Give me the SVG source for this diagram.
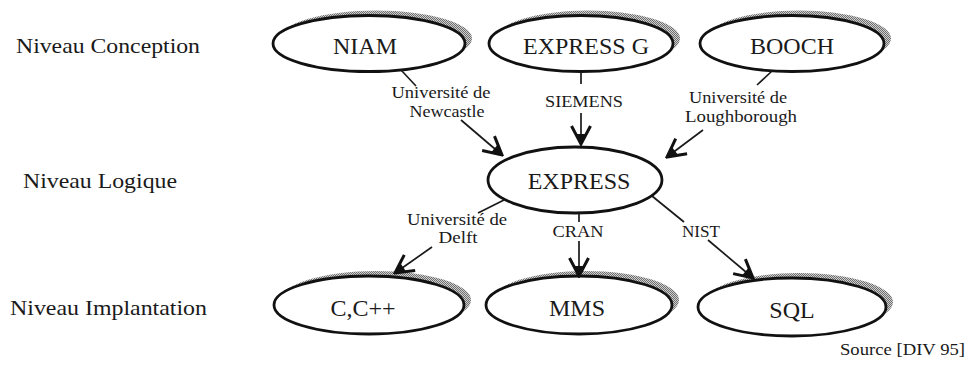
<svg xmlns="http://www.w3.org/2000/svg" width="972" height="369" viewBox="0 0 972 369">
<defs>
<pattern id="stip" width="2" height="2" patternUnits="userSpaceOnUse">
<rect width="2" height="2" fill="#d0d0d0"/>
<rect x="0" y="0" width="1" height="1" fill="#6e6e6e"/>
<rect x="1" y="1" width="1" height="1" fill="#6e6e6e"/>
</pattern>
<marker id="arr" markerWidth="22" markerHeight="24" refX="20" refY="12" orient="auto" markerUnits="userSpaceOnUse">
<path d="M2,2.5 L20,12 L2,21.5" fill="none" stroke="#111" stroke-width="3" stroke-linejoin="miter"/>
<path d="M10,7.5 L20,12 L10,16.5 Z" fill="#111"/>
</marker>
</defs>
<style>
.sh{fill:url(#stip);stroke:none}
.el{fill:#fff;stroke:#111;stroke-width:2.8}
.nt{font-family:"Liberation Serif",serif;font-size:24px;fill:#1a1a1a;text-anchor:middle}
.lv{font-family:"Liberation Serif",serif;font-size:21px;fill:#1a1a1a}
.cl{font-family:"Liberation Serif",serif;font-size:16px;fill:#1a1a1a;text-anchor:middle}
.ln{stroke:#1a1a1a;stroke-width:1.7;fill:none}
</style>
<rect width="972" height="369" fill="#fff"/>
<g id="levels">
<text class="lv" x="16" y="53" textLength="184" lengthAdjust="spacingAndGlyphs">Niveau Conception</text>
<text class="lv" x="23" y="188" textLength="154" lengthAdjust="spacingAndGlyphs">Niveau Logique</text>
<text class="lv" x="10" y="315" textLength="197" lengthAdjust="spacingAndGlyphs">Niveau Implantation</text>
</g>
<g id="niam">
<ellipse class="sh" cx="376" cy="38.5" rx="96" ry="28"/>
<ellipse class="el" cx="369" cy="43.5" rx="96" ry="28"/>
<text class="nt" x="365" y="54">NIAM</text>
</g>
<g id="expressg">
<ellipse class="sh" cx="588" cy="38.5" rx="92" ry="28"/>
<ellipse class="el" cx="581" cy="43.5" rx="92" ry="28"/>
<text class="nt" x="586" y="54">EXPRESS G</text>
</g>
<g id="booch">
<ellipse class="sh" cx="799" cy="38.5" rx="92" ry="28"/>
<ellipse class="el" cx="792" cy="43.5" rx="92" ry="28"/>
<text class="nt" x="792" y="54">BOOCH</text>
</g>
<g id="express">
<ellipse class="el" cx="575" cy="180" rx="87" ry="33"/>
<text class="nt" x="579" y="189">EXPRESS</text>
</g>
<g id="cpp">
<ellipse class="sh" cx="376" cy="300" rx="95" ry="29"/>
<ellipse class="el" cx="369" cy="305" rx="95" ry="29"/>
<text class="nt" x="363" y="316">C,C++</text>
</g>
<g id="mms">
<ellipse class="sh" cx="586" cy="300" rx="93" ry="29"/>
<ellipse class="el" cx="579" cy="305" rx="93" ry="29"/>
<text class="nt" x="577" y="316">MMS</text>
</g>
<g id="sql">
<ellipse class="sh" cx="799" cy="302" rx="94" ry="29"/>
<ellipse class="el" cx="792" cy="307" rx="94" ry="29"/>
<text class="nt" x="792" y="318">SQL</text>
</g>
<g id="connectors">
<line class="ln" x1="401" y1="70" x2="416" y2="86"/>
<line class="ln" x1="461" y1="120" x2="502" y2="155" marker-end="url(#arr)"/>
<line class="ln" x1="581" y1="72" x2="581" y2="84"/>
<line class="ln" x1="581" y1="113" x2="581" y2="144" marker-end="url(#arr)"/>
<line class="ln" x1="772" y1="71" x2="757" y2="85"/>
<line class="ln" x1="703" y1="130" x2="667" y2="157" marker-end="url(#arr)"/>
<line class="ln" x1="504" y1="200" x2="478" y2="213"/>
<line class="ln" x1="432" y1="247" x2="395" y2="273" marker-end="url(#arr)"/>
<line class="ln" x1="579" y1="213" x2="579" y2="222"/>
<line class="ln" x1="579" y1="241" x2="579" y2="276" marker-end="url(#arr)"/>
<line class="ln" x1="652" y1="196" x2="684" y2="222"/>
<line class="ln" x1="708" y1="240" x2="753" y2="278" marker-end="url(#arr)"/>
<text class="cl" x="441" y="98" textLength="99" lengthAdjust="spacingAndGlyphs">Université de</text>
<text class="cl" x="447" y="117" textLength="75" lengthAdjust="spacingAndGlyphs">Newcastle</text>
<text class="cl" x="584" y="107" textLength="78" lengthAdjust="spacingAndGlyphs">SIEMENS</text>
<text class="cl" x="738" y="103" textLength="98" lengthAdjust="spacingAndGlyphs">Université de</text>
<text class="cl" x="741" y="122" textLength="112" lengthAdjust="spacingAndGlyphs">Loughborough</text>
<text class="cl" x="457" y="225" textLength="100" lengthAdjust="spacingAndGlyphs">Université de</text>
<text class="cl" x="458" y="243" textLength="39" lengthAdjust="spacingAndGlyphs">Delft</text>
<text class="cl" x="578" y="237" textLength="51" lengthAdjust="spacingAndGlyphs">CRAN</text>
<text class="cl" x="701" y="237" textLength="38" lengthAdjust="spacingAndGlyphs">NIST</text>
</g>
<text x="840" y="355" font-family="Liberation Serif, serif" font-size="16" fill="#1a1a1a" textLength="125" lengthAdjust="spacingAndGlyphs">Source [DIV 95]</text>
</svg>
